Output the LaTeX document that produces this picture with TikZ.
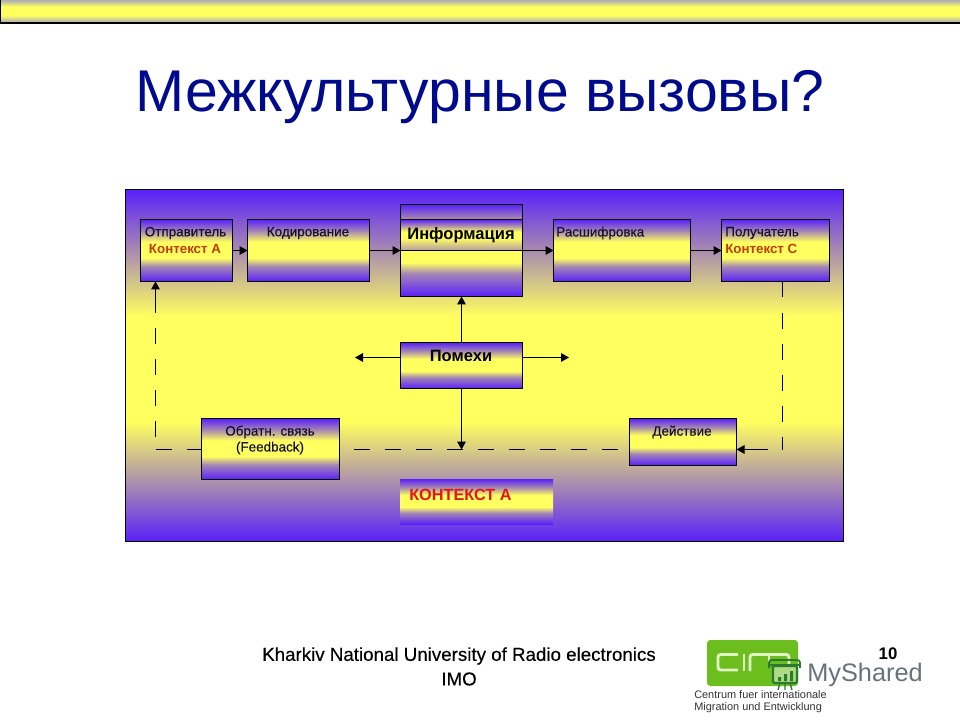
\documentclass[tikz,border=0pt]{standalone}
\usepackage{fontspec}
\setmainfont{Liberation Sans}
\newfontfamily\semibold[FakeBold=0.3]{Liberation Sans}
\newfontfamily\footfont[FakeBold=0.2]{Liberation Sans}
\usetikzlibrary{arrows.meta}
\definecolor{bl}{HTML}{5A20FA}
\definecolor{ye}{HTML}{FFFF60}
\definecolor{gr}{HTML}{ACACB8}
\definecolor{ttl}{HTML}{000A8C}
\definecolor{lbl}{HTML}{14102E}
\definecolor{orng}{HTML}{C23C0C}
\definecolor{rd}{HTML}{E01818}
\definecolor{logog}{HTML}{6CBE1E}
\definecolor{logol}{HTML}{E2F4C4}
\definecolor{dkg}{HTML}{2A7A30}
\definecolor{mysh}{HTML}{66737A}
% TikZ maps the 25bp..75bp band of a shading onto the bounding box
\pgfdeclareverticalshading{bggrad}{100bp}{color(0bp)=(bl); color(25bp)=(bl); color(42bp)=(ye); color(57bp)=(ye); color(75bp)=(bl); color(100bp)=(bl)}
\pgfdeclareverticalshading{boxgrad}{100bp}{color(0bp)=(bl); color(25bp)=(bl); color(37bp)=(bl!55!ye); color(44bp)=(ye); color(57bp)=(ye); color(66bp)=(bl!55!ye); color(75bp)=(bl); color(100bp)=(bl)}
\pgfdeclareverticalshading{topgrad}{100bp}{color(0bp)=(gr); color(25bp)=(gr); color(40bp)=(ye); color(60bp)=(ye); color(75bp)=(gr); color(100bp)=(gr)}
\pgfdeclareverticalshading{capgrad}{100bp}{color(0bp)=(bl!45!ye); color(25bp)=(bl!45!ye); color(45bp)=(ye); color(55bp)=(ye); color(75bp)=(bl); color(100bp)=(bl)}
\pgfdeclareverticalshading{lidgrad}{100bp}{color(0bp)=(bl!50!ye); color(25bp)=(bl!50!ye); color(75bp)=(bl); color(100bp)=(bl)}
\pgfdeclareverticalshading{lowgrad}{100bp}{color(0bp)=(bl); color(25bp)=(bl); color(50bp)=(bl!55!ye); color(62bp)=(ye); color(75bp)=(ye); color(100bp)=(ye)}
\newcommand{\rectnode}[6]{%
  \pgfmathsetmacro{\rw}{(#4-#2)*0.75}\pgfmathsetmacro{\rh}{(#5-#3)*0.75}%
  \node[#6,minimum width=\rw pt,minimum height=\rh pt] (#1) at ({(#2+#4)/2},{(#3+#5)/2}) {};}
\tikzset{
  x=0.75pt,y=-0.75pt,
  rectbox/.style={draw=black,line width=0.75pt,inner sep=0pt,outer sep=0pt,shading=boxgrad},
  flow/.style={line width=0.75pt,draw=black,-{Triangle[length=6pt,width=6.5pt]}},
  dashline/.style={line width=0.75pt,draw=black,dash pattern=on 12pt off 11.25pt},
  small/.style={inner sep=0pt,text=lbl,font=\semibold\fontsize{10.1}{12}\selectfont},
  accent/.style={inner sep=0pt,text=orng,font=\fontsize{10}{12}\selectfont\bfseries},
  mid/.style={inner sep=0pt,text=black,font=\fontsize{12.4}{14}\selectfont\bfseries},
  foot/.style={inner sep=0pt,text=black,font=\footfont\fontsize{14.05}{17}\selectfont},
  tiny/.style={inner sep=0pt,anchor=west,text=black!80,font=\fontsize{8.2}{10}\selectfont},
}
\begin{document}
\begin{tikzpicture}
\useasboundingbox (0,0) rectangle (960,720);
\fill[white] (0,0) rectangle (960,720);
% top bar
\shade[shading=topgrad] (0,0) rectangle (960,22);
\draw[line width=1pt,black] (0,23) -- (960,23);
\draw[line width=0.75pt,black] (0.5,0) -- (0.5,23);
% title
\node[inner sep=0pt,text=ttl,font=\fontsize{44.2}{52}\selectfont] (title) at (480,97) {Межкультурные вызовы?};
% panel
\rectnode{panel}{125.5}{189.5}{843.5}{541.5}{draw=black,line width=0.9pt,inner sep=0pt,outer sep=0pt,shading=bggrad}
% boxes
\rectnode{sender}{140.5}{219.5}{232.5}{281.5}{rectbox}
\rectnode{encode}{247.5}{219.5}{369.5}{281.5}{rectbox}
\rectnode{lid}{400.5}{204.5}{522.5}{219.5}{rectbox,shading=lidgrad}
\rectnode{low}{400.5}{250.5}{522.5}{296.5}{rectbox,shading=lowgrad}
\rectnode{info}{400.5}{219.5}{522.5}{250.5}{rectbox,shading=capgrad}
\rectnode{decode}{553.5}{219.5}{690.5}{281.5}{rectbox}
\rectnode{recv}{721.5}{219.5}{829.5}{281.5}{rectbox}
\rectnode{noise}{400.5}{342.5}{522.5}{388.5}{rectbox}
\rectnode{fb}{201.5}{418.5}{339.5}{479.5}{rectbox}
\rectnode{act}{629.5}{418.5}{736.5}{465}{rectbox}
\rectnode{ctx}{400}{479}{553}{524}{inner sep=0pt,outer sep=0pt,shading=boxgrad}
% labels
\node[small] (t1) at (185.5,233) {Отправитель};
\node[accent] (t2) at (185,248.5) {Контекст А};
\node[small] (t3) at (308,233) {Кодирование};
\node[mid] (t4) at (461,235) {Информация};
\node[small,anchor=west] (t5) at (556,233) {Расшифровка};
\node[small,anchor=west] (t6) at (725,233) {Получатель};
\node[accent,anchor=west] (t7) at (725,248.5) {Контекст С};
\node[mid] (t8) at (461,356) {Помехи};
\node[small] (t9) at (270,432) {Обратн. связь};
\node[small] (t10) at (270,448) {(Feedback)};
\node[small] (t11) at (682,432) {Действие};
\node[inner sep=0pt,anchor=west,text=rd,font=\fontsize{12.2}{14}\selectfont\bfseries] (t12) at (409,495) {КОНТЕКСТ А};
% connectors
\draw[flow] (sender.east |- info.south) -- (encode.west |- info.south);
\draw[flow] (encode.east |- info.south) -- (info.south west);
\draw[flow] (info.south east) -- (decode.west |- info.south);
\draw[flow] (decode.east |- info.south) -- (recv.west |- info.south);
\draw[flow] (noise.north) -- (low.south);
\coordinate (nl) at (355,357.5);
\coordinate (nr) at (569,357.5);
\coordinate (nd) at (461.5,449.5);
\draw[flow] (noise.west |- nl) -- (nl);
\draw[flow] (noise.east |- nr) -- (nr);
\draw[flow] (noise.south) -- (nd);
\coordinate (rc) at (782.5,449.5);
\coordinate (rs) at (768,449.5);
\coordinate (lc) at (155.5,449.5);
\coordinate (lb) at (155.5,312);
\coordinate (ra) at (782.5,281.5);
\coordinate (la) at (155.5,281.5);
\draw[dashline] (ra) -- (rc);
\draw[flow] (rs) -- (act.east |- rs);
\draw[dashline,dash phase=12.75pt] (fb.east |- rc) -- (act.west |- rc);
\draw[dashline] (lc) -- (fb.west |- lc);
\draw[dashline,dash phase=13.5pt] (lc) -- (lb);
\draw[flow] (lb) -- (la);
% footer
\node[foot] (f1) at (459,656) {Kharkiv National University of Radio electronics};
\node[foot] (f2) at (459,679) {IMO};
\node[inner sep=0pt,font=\fontsize{12.6}{15}\selectfont\bfseries] (pg) at (888,654) {10};
% logo
\fill[logog,rounded corners=2.5pt] (707,640) rectangle (798,686);
\draw[logol,line width=2.2pt,rounded corners=2pt] (738,654.5) -- (718,654.5) -- (718,670) -- (738,670);
\draw[logol,line width=2.2pt] (744,653.5) -- (744,671);
\draw[logol,line width=2.2pt,rounded corners=2pt] (750,671) -- (750,654.5) -- (789,654.5) -- (789,664);
\draw[logol,line width=2.2pt] (769,654.5) -- (769,664);
\fill[logog!55!white] (773,666) rectangle (797,683);
\draw[dkg,line width=1.6pt,rounded corners=1pt] (773,666) rectangle (797,683);
\draw[dkg,line width=1.4pt,rounded corners=2pt] (769,668) -- (769,660) -- (800,660) -- (800,668);
\draw[dkg,line width=1.4pt] (769,665) -- (800,665);
\fill[dkg] (778,677) rectangle (781,681) (784,674) rectangle (787,681) (790,671) rectangle (793,681);
\draw[dkg,line width=1pt] (780,683) -- (778,690) (790,683) -- (792,690) (785,683) -- (785,690);
\node[inner sep=0pt,anchor=west,text=mysh,font=\fontsize{19}{22}\selectfont] (ms) at (807,675) {MyShared};
\node[tiny] (c1) at (694,695) {Centrum fuer internationale};
\node[tiny] (c2) at (694,708) {Migration und Entwicklung};
\end{tikzpicture}
\end{document}
